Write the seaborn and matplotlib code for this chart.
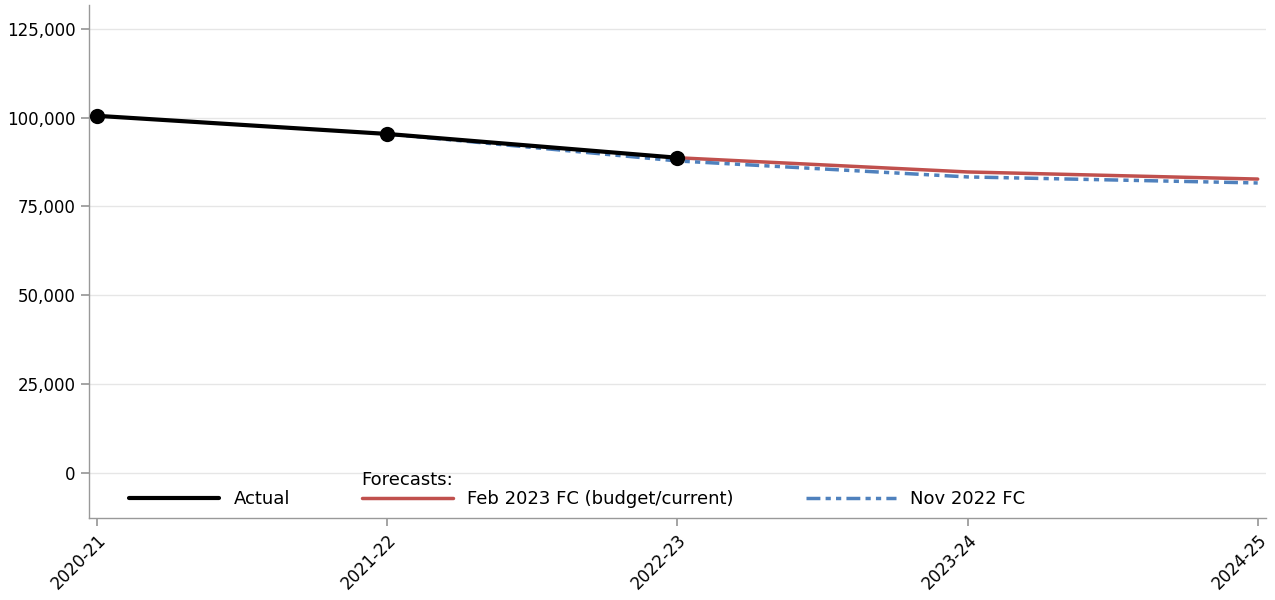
import pandas as pd
import numpy as np
import seaborn as sns
import matplotlib.pyplot as plt
from matplotlib.ticker import FuncFormatter

## ==============================
## 데이터
years = ['2020-21', '2021-22', '2022-23', '2023-24', '2024-25']

actual_years = ['2020-21', '2021-22', '2022-23']
actual_vals = [100500, 95400, 88700]

feb_years = ['2022-23', '2023-24', '2024-25']
feb_vals = [88700, 84700, 82700]

nov_years = ['2021-22', '2022-23', '2023-24', '2024-25']
nov_vals = [95400, 87800, 83300, 81600]

yticks = [0, 25000, 50000, 75000, 100000, 125000]

pos = {y: i for i, y in enumerate(years)}
df_act = pd.DataFrame({'x': [pos[y] for y in actual_years], 'v': actual_vals})
df_feb = pd.DataFrame({'x': [pos[y] for y in feb_years], 'v': feb_vals})
df_nov = pd.DataFrame({'x': [pos[y] for y in nov_years], 'v': nov_vals})

## ==============================
## 시각화
sns.set_theme(style='white')
plt.rcParams['font.family'] = ['DejaVu Sans']
plt.rcParams['text.color'] = 'black'

fig = plt.figure(figsize=(12.75, 6), dpi=100)
ax = fig.add_axes([0.0698, 0.1367, 0.923, 0.855])

red = '#C0504D'
blue = '#4F81BD'

sns.lineplot(data=df_nov, x='x', y='v', ax=ax, color=blue, linewidth=2.5,
             linestyle=(0, (4, 1.5, 1.5, 1.5, 1.5, 1.5)), label='Nov 2022 FC', zorder=3)
sns.lineplot(data=df_feb, x='x', y='v', ax=ax, color=red, linewidth=2.5,
             label='Feb 2023 FC (budget/current)', zorder=2)
sns.lineplot(data=df_act, x='x', y='v', ax=ax, color='black', linewidth=3,
             marker='o', markersize=11, markeredgewidth=0, label='Actual', zorder=4)

ax.set_xlim(-0.028, 4.028)
ax.set_ylim(-12700, 131700)
ax.set_xticks(range(len(years)))
ax.set_xticklabels(years, rotation=45, ha='right', rotation_mode='anchor', fontsize=12)
ax.set_yticks(yticks)
ax.yaxis.set_major_formatter(FuncFormatter(lambda v, p: f'{int(v):,}'))
ax.tick_params(axis='y', labelsize=12, length=6, color='#999999', labelcolor='black', left=True)
ax.tick_params(axis='x', length=6, color='#999999', labelcolor='black', bottom=True)
ax.grid(axis='y', color='#e6e6e6', linewidth=1)
ax.set_axisbelow(True)
ax.set_xlabel('')
ax.set_ylabel('')

for s in ['top', 'right']:
    ax.spines[s].set_visible(False)
for s in ['left', 'bottom']:
    ax.spines[s].set_color('#999999')
    ax.spines[s].set_linewidth(1)

# 범례 순서 정리
h, l = ax.get_legend_handles_labels()
order = [l.index('Actual'), l.index('Feb 2023 FC (budget/current)'), l.index('Nov 2022 FC')]
leg = ax.legend([h[i] for i in order], [l[i] for i in order], ncol=3, frameon=False,
                loc='lower left', bbox_to_anchor=(0.02, -0.013), fontsize=13,
                handlelength=5, columnspacing=4, handletextpad=0.8)
leg.legend_handles[0].set_marker('')
ax.text(0.231, 0.056, 'Forecasts:', transform=ax.transAxes, fontsize=13, ha='left', va='bottom')

plt.savefig('out.png', dpi=100)
